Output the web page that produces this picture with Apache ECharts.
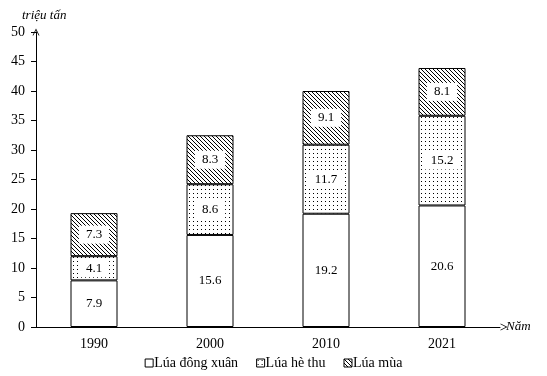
<!DOCTYPE html>
<html>
<head>
<meta charset="utf-8">
<style>
  html, body { margin: 0; padding: 0; background: #fff; }
  #chart { width: 547px; height: 376px; }
</style>
<script src="https://cdn.jsdelivr.net/npm/echarts@6/dist/echarts.min.js"></script>
</head>
<body>
<div id="chart"></div>
<script>
const years = ['1990', '2000', '2010', '2021']
const dongXuan = [7.9, 15.6, 19.2, 20.6]
const heThu = [4.1, 8.6, 11.7, 15.2]
const mua = [7.3, 8.3, 9.1, 8.1]
const yTicks = { min: 0, max: 50, step: 5 }

const FONT = '"Liberation Serif", "DejaVu Serif", serif'

// dot pattern for "hè thu"
function dotPattern()
{
  const c = document.createElement('canvas')
  c.width = 4; c.height = 4
  const ctx = c.getContext('2d')
  ctx.fillStyle = '#fff'
  ctx.fillRect(0, 0, 4, 4)
  ctx.fillStyle = '#000'
  ctx.fillRect(1, 1, 1, 1)
  return c
}
// hatch pattern "\\" for "mùa"
function hatchPattern()
{
  const c = document.createElement('canvas')
  c.width = 4; c.height = 4
  const ctx = c.getContext('2d')
  ctx.fillStyle = '#fff'
  ctx.fillRect(0, 0, 4, 4)
  ctx.fillStyle = '#000'
  for (let i = 0; i < 4; i++) ctx.fillRect(i, i, 1, 1)
  return c
}

// open arrow head (pointing up, rotated by echarts)
const chevron = 'path://M0,20 L10,0 L20,20 L17.6,20 L10,4.8 L2.4,20 Z'

const label = {
  show: true,
  position: 'inside',
  color: '#000',
  fontFamily: FONT,
  fontSize: 13,
  backgroundColor: '#fff',
  padding: [3, 7, 2, 7]
}

function barSeries(name, data, color)
{
  return {
    name: name,
    type: 'bar',
    stack: 'lua',
    data: data,
    barWidth: 47,
    label: label,
    itemStyle: { color: color, borderColor: '#000', borderWidth: 1 },
    emphasis: { disabled: true },
    animation: false
  }
}

const chart = echarts.init(document.getElementById('chart'))
chart.setOption({
  animation: false,
  title: {
    text: 'triệu tấn',
    left: 17,
    top: 4,
    textStyle: { fontFamily: FONT, fontSize: 13, fontStyle: 'italic', fontWeight: 'normal', color: '#000' }
  },
  legend: {
    bottom: 1,
    left: 'center',
    itemWidth: 8,
    itemHeight: 8,
    itemGap: 18,
    icon: 'rect',
    itemStyle: { borderColor: '#000', borderWidth: 1 },
    textStyle: { fontFamily: FONT, fontSize: 14, color: '#000', padding: [0, 0, 0, -4] },
    data: ['Lúa đông xuân', 'Lúa hè thu', 'Lúa mùa']
  },
  grid: { left: 36, right: 47, top: 32, bottom: 49 },
  xAxis: {
    type: 'category',
    data: years,
    name: 'Năm',
    nameLocation: 'end',
    nameGap: 6,
    nameTextStyle: { fontFamily: FONT, fontSize: 13, fontStyle: 'italic', color: '#000' },
    axisLine: { lineStyle: { color: '#000', width: 1 }, symbol: ['none', chevron], symbolSize: [12, 7], symbolOffset: [0, 4] },
    axisTick: { show: false },
    axisLabel: { color: '#000', fontFamily: FONT, fontSize: 14, margin: 10 }
  },
  yAxis: {
    type: 'value',
    min: yTicks.min,
    max: yTicks.max,
    interval: yTicks.step,
    axisLine: { show: true, lineStyle: { color: '#000', width: 1 }, symbol: ['none', chevron], symbolSize: [12, 7], symbolOffset: [0, 0] },
    axisTick: { show: true, length: 5, lineStyle: { color: '#000' } },
    axisLabel: { color: '#000', fontFamily: FONT, fontSize: 14, margin: 11 },
    splitLine: { show: false }
  },
  series: [
    barSeries('Lúa đông xuân', dongXuan, '#fff'),
    barSeries('Lúa hè thu', heThu, { image: dotPattern(), repeat: 'repeat' }),
    barSeries('Lúa mùa', mua, { image: hatchPattern(), repeat: 'repeat' })
  ]
})
</script>
</body>
</html>
